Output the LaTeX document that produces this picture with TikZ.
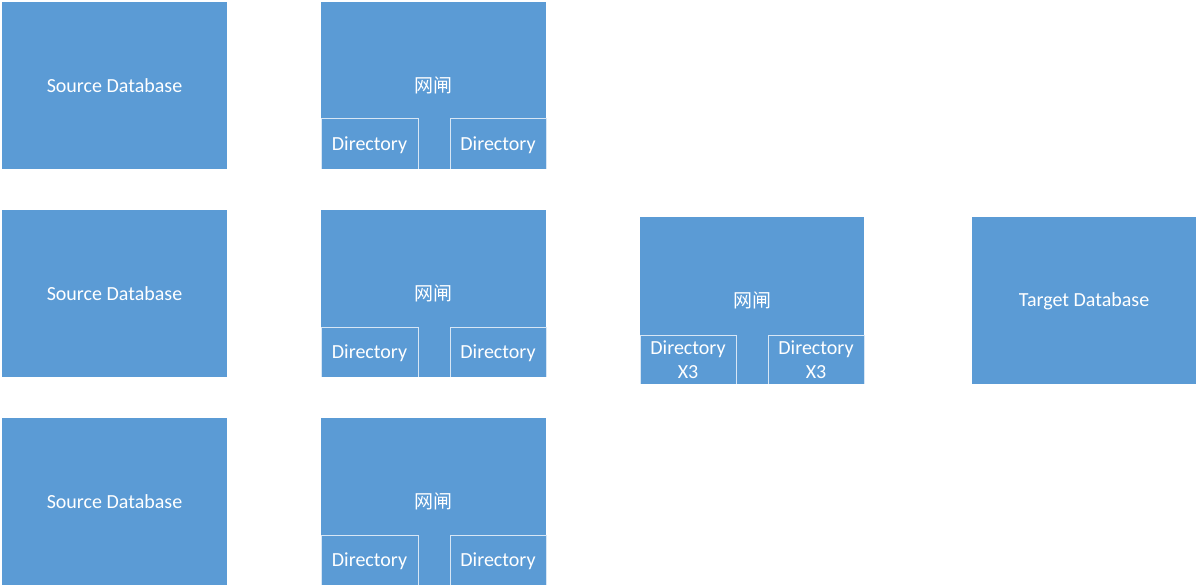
\documentclass[tikz,border=0pt]{standalone}
\usepackage{fontspec}
\setmainfont{Carlito}
\newfontfamily\cjk{Noto Sans CJK SC}
\definecolor{boxblue}{RGB}{91,155,213}
\definecolor{subline}{RGB}{215,230,245}
\tikzset{
  lbl/.style={text=white, inner sep=0pt, font=\fontsize{20}{23}\selectfont},
  sublbl/.style={text=white, inner sep=0pt, align=center, font=\fontsize{20}{23.5}\selectfont},
  subedge/.style={subline, line width=1pt, fill=boxblue},
}
\begin{document}
\begin{tikzpicture}[x=1pt,y=-1pt]
\useasboundingbox (0,0) rectangle (1199,588);
% source databases and gateways
\foreach \i/\y in {1/2,2/210,3/418}{
  \fill[boxblue] (2,\y) rectangle (227,\y+167);
  \node[lbl] (src\i) at (114.5,\y+84) {Source Database};
  \fill[boxblue] (321,\y) rectangle (546,\y+167);
  \node[lbl, font=\fontsize{19}{22}\selectfont\cjk] (gw\i) at (433.5,\y+83) {网闸};
  \draw[subedge] (321,\y+167) -- (321,\y+117) -- (418,\y+117) -- (418,\y+167);
  \draw[subedge] (450,\y+167) -- (450,\y+117) -- (546,\y+117) -- (546,\y+167);
  \node[lbl] (dl\i) at (369.5,\y+143) {Directory};
  \node[lbl] (dr\i) at (498,\y+143) {Directory};
}
% middle gateway
\fill[boxblue] (640,217) rectangle (864,384);
\node[lbl, font=\fontsize{19}{22}\selectfont\cjk] (gwm) at (752,300) {网闸};
\draw[subedge] (640,384) -- (640,335) -- (736,335) -- (736,384);
\draw[subedge] (768,384) -- (768,335) -- (864,335) -- (864,384);
\node[sublbl] (dml) at (688,359.5) {Directory\\X3};
\node[sublbl] (dmr) at (816,359.5) {Directory\\X3};
% target
\fill[boxblue] (972,217) rectangle (1196,384);
\node[lbl] (tgt) at (1084,301) {Target Database};
\end{tikzpicture}
\end{document}
